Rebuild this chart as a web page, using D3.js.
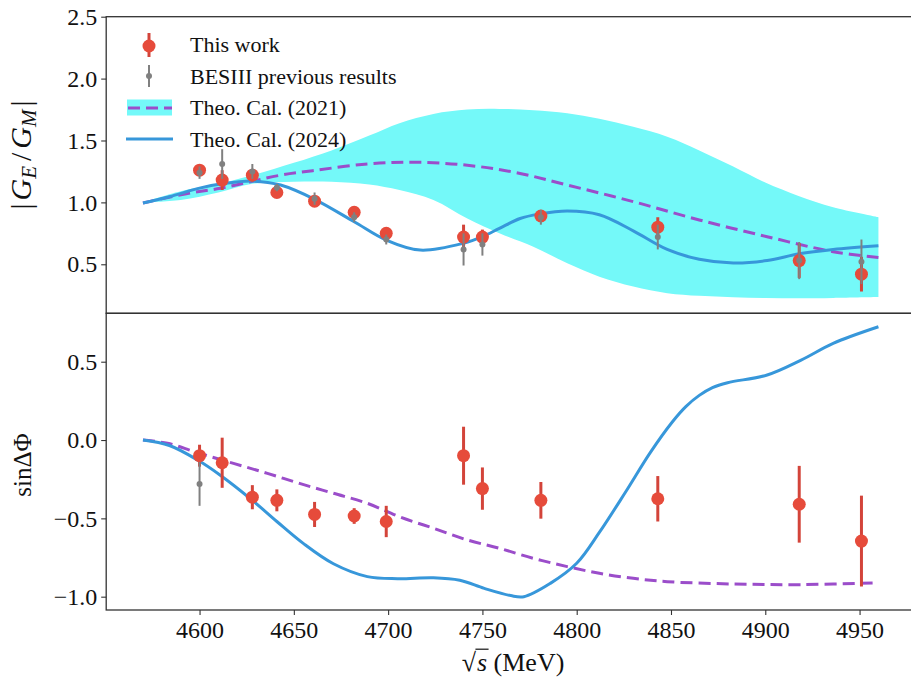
<!DOCTYPE html>
<html>
<head>
<meta charset="utf-8">
<script src="https://cdn.jsdelivr.net/npm/d3@7"></script>
<style>
  body { margin: 0; background: #fff; }
  svg { display: block; }
  text { font-family: "Liberation Serif", "Times New Roman", serif; fill: #111; }
</style>
</head>
<body>
<svg id="chart" width="911" height="680"></svg>
<script>
// Measured centre-of-mass energies (MeV)
const energies = [4600, 4612, 4628, 4641, 4661, 4682, 4699, 4740, 4750, 4781, 4843, 4918, 4951];

// |G_E/G_M| : this work and earlier BESIII results
const ratioThis     = [1.26, 1.18, 1.22, 1.08, 1.01, 0.92, 0.75, 0.72, 0.72, 0.89, 0.80, 0.53, 0.42];
const ratioThisErr  = [0.04, 0.08, 0.05, 0.03, 0.03, 0.03, 0.04, 0.10, 0.06, 0.03, 0.08, 0.14, 0.14];
const ratioPrev     = [1.24, 1.31, 1.25, 1.12, 1.03, 0.88, 0.70, 0.62, 0.66, 0.88, 0.72, 0.53, 0.52];
const ratioPrevErr  = [0.05, 0.12, 0.06, 0.03, 0.05, 0.04, 0.04, 0.13, 0.09, 0.06, 0.10, 0.15, 0.18];

// sin(ΔΦ) : this work, plus a single earlier result at 4600 MeV
const sinThis    = [-0.10, -0.145, -0.365, -0.385, -0.475, -0.485, -0.52, -0.10, -0.31, -0.385, -0.375, -0.41, -0.645];
const sinThisErr = [0.07, 0.16, 0.077, 0.07, 0.08, 0.05, 0.10, 0.185, 0.135, 0.117, 0.145, 0.245, 0.29];
const sinPrevE   = [4600];
const sinPrev    = [-0.28];
const sinPrevErr = [0.14];

// Theory 2024 curve, ratio panel
const t24RatioE = [4570, 4584, 4600, 4612, 4628, 4643, 4661, 4682, 4699, 4717, 4740, 4750, 4759, 4770, 4780, 4795, 4812, 4830, 4848, 4865, 4883, 4901, 4918, 4936, 4960];
const t24Ratio  = [0.995, 1.046, 1.115, 1.15, 1.172, 1.14, 1.025, 0.844, 0.696, 0.615, 0.67, 0.723, 0.79, 0.87, 0.905, 0.93, 0.90, 0.77, 0.62, 0.54, 0.51, 0.53, 0.585, 0.62, 0.65];

// Theory 2021 curve, ratio panel
const t21RatioE = [4570, 4593, 4611, 4627, 4643, 4660, 4689, 4715, 4742, 4768, 4795, 4830, 4865, 4901, 4936, 4960];
const t21Ratio  = [0.995, 1.07, 1.114, 1.167, 1.22, 1.256, 1.31, 1.324, 1.30, 1.24, 1.14, 1.006, 0.858, 0.723, 0.602, 0.555];

// Theory 2021 uncertainty band
const bandE     = [4570, 4590, 4610, 4628, 4650, 4670, 4690, 4706, 4724, 4742, 4759, 4777, 4795, 4812, 4830, 4848, 4865, 4883, 4900, 4918, 4936, 4960];
const bandUpper = [1.0, 1.09, 1.15, 1.22, 1.32, 1.42, 1.54, 1.64, 1.715, 1.75, 1.755, 1.745, 1.72, 1.675, 1.61, 1.53, 1.42, 1.29, 1.16, 1.05, 0.96, 0.88];
const bandLower = [1.0, 1.02, 1.08, 1.15, 1.167, 1.167, 1.145, 1.10, 1.02, 0.87, 0.75, 0.642, 0.508, 0.40, 0.32, 0.266, 0.245, 0.234, 0.228, 0.225, 0.228, 0.235];

// Theory curves, sin(ΔΦ) panel
const t24SinE = [4570, 4584, 4599, 4611, 4628, 4641, 4655, 4671, 4689, 4705, 4724, 4738, 4751, 4765, 4772, 4786, 4800, 4812, 4826, 4839, 4851, 4858, 4865, 4872, 4880, 4901, 4919, 4936, 4960];
const t24Sin  = [0.0, -0.035, -0.128, -0.225, -0.385, -0.52, -0.66, -0.79, -0.872, -0.885, -0.879, -0.895, -0.947, -0.993, -1.0, -0.915, -0.787, -0.59, -0.33, -0.08, 0.12, 0.215, 0.285, 0.335, 0.366, 0.415, 0.51, 0.617, 0.723];
const t21SinE = [4570, 4583, 4600, 4618, 4636, 4653, 4671, 4689, 4706, 4724, 4742, 4759, 4777, 4795, 4812, 4830, 4848, 4883, 4919, 4960];
const t21Sin  = [0.0, -0.021, -0.085, -0.149, -0.213, -0.277, -0.34, -0.404, -0.49, -0.563, -0.638, -0.691, -0.755, -0.808, -0.851, -0.883, -0.904, -0.919, -0.923, -0.911];

// Tick values
const xTicks     = [4600, 4650, 4700, 4750, 4800, 4850, 4900, 4950];
const ratioTicks = [0.5, 1.0, 1.5, 2.0, 2.5];
const sinTicks   = [-1.0, -0.5, 0.0, 0.5];

const legendLabels = ["This work", "BESIII previous results", "Theo. Cal. (2021)", "Theo. Cal. (2024)"];

// ---- styling ----
const SERIF = "Liberation Serif";
const RED = "#E64B3B", RED_BAR = "#D3443A", GREY = "#808080";
const PURPLE = "#9B4DCA", BLUE = "#3797DA", CYAN = "#74F9F9", FRAME = "#333";

const svg = d3.select("#chart");
const left = 106.2, right = 915.2;
const topPanel = { top: 16.7, bottom: 313.3 };
const botPanel = { top: 313.3, bottom: 610 };

const x = d3.scaleLinear().domain([4550.5, 4979.5]).range([left, right]);
const yR = d3.scaleLinear().domain([0.104, 2.5]).range([topPanel.bottom, topPanel.top]);
const yS = d3.scaleLinear().domain([-1.085, 0.809]).range([botPanel.bottom, botPanel.top]);

const smooth = d3.curveCatmullRom.alpha(0.5);
const lineOf = (xs, ys, ysc) => d3.line().curve(smooth).x((d, i) => x(xs[i])).y((d, i) => ysc(ys[i]))(ys);

// ---- ratio panel ----
const gTop = svg.append("g");
gTop.append("path")
  .attr("d", d3.area().curve(smooth)
    .x((d, i) => x(bandE[i])).y0((d, i) => yR(bandLower[i])).y1((d, i) => yR(bandUpper[i]))(bandE))
  .attr("fill", CYAN);
gTop.append("path").attr("d", lineOf(t21RatioE, t21Ratio, yR))
  .attr("fill", "none").attr("stroke", PURPLE).attr("stroke-width", 3).attr("stroke-dasharray", "12,6");
gTop.append("path").attr("d", lineOf(t24RatioE, t24Ratio, yR))
  .attr("fill", "none").attr("stroke", BLUE).attr("stroke-width", 3);

function errorPoints(g, xs, vs, es, ysc, color, barColor, r, w) {
  const pts = g.append("g");
  xs.forEach((e, i) => {
    pts.append("line").attr("x1", x(e)).attr("x2", x(e))
      .attr("y1", ysc(vs[i] - es[i])).attr("y2", ysc(vs[i] + es[i]))
      .attr("stroke", barColor).attr("stroke-width", w);
    pts.append("circle").attr("cx", x(e)).attr("cy", ysc(vs[i])).attr("r", r).attr("fill", color);
  });
}
errorPoints(gTop, energies, ratioThis, ratioThisErr, yR, RED, RED_BAR, 6.5, 3);
errorPoints(gTop, energies, ratioPrev, ratioPrevErr, yR, GREY, GREY, 3, 2);

// ---- sin(ΔΦ) panel ----
const gBot = svg.append("g");
gBot.append("path").attr("d", lineOf(t21SinE, t21Sin, yS))
  .attr("fill", "none").attr("stroke", PURPLE).attr("stroke-width", 3).attr("stroke-dasharray", "12,6");
gBot.append("path").attr("d", lineOf(t24SinE, t24Sin, yS))
  .attr("fill", "none").attr("stroke", BLUE).attr("stroke-width", 3);
errorPoints(gBot, energies, sinThis, sinThisErr, yS, RED, RED_BAR, 6.5, 3);
errorPoints(gBot, sinPrevE, sinPrev, sinPrevErr, yS, GREY, GREY, 3, 2);

// ---- frames ----
[topPanel, botPanel].forEach(p => {
  svg.append("rect").attr("x", left).attr("y", p.top)
    .attr("width", right - left).attr("height", p.bottom - p.top)
    .attr("fill", "none").attr("stroke", FRAME).attr("stroke-width", 1.3);
});

// ---- axes ----
function styleAxis(g) {
  g.attr("font-family", SERIF).attr("font-size", 24);
  g.select(".domain").remove();
  g.selectAll(".tick line").attr("stroke", FRAME).attr("stroke-width", 1.1);
  g.selectAll(".tick text").attr("fill", "#111").attr("font-size", 24)
    .style("font-family", "'Liberation Serif', serif");
}
svg.append("g").attr("transform", `translate(${left},0)`)
  .call(d3.axisLeft(yR).tickValues(ratioTicks).tickSize(5).tickPadding(4).tickFormat(d3.format(".1f")))
  .call(styleAxis);
svg.append("g").attr("transform", `translate(${left},0)`)
  .call(d3.axisLeft(yS).tickValues(sinTicks).tickSize(5).tickPadding(4).tickFormat(d3.format(".1f")))
  .call(styleAxis);
svg.append("g").attr("transform", `translate(0,${botPanel.bottom})`)
  .call(d3.axisBottom(x).tickValues(xTicks).tickSize(5).tickPadding(6).tickFormat(d3.format("d")))
  .call(styleAxis);

// ---- axis titles ----
const yT = svg.append("text").attr("transform", "translate(31,155) rotate(-90)")
  .attr("text-anchor", "middle").attr("font-size", 30);
yT.append("tspan").text("|");
yT.append("tspan").attr("font-style", "italic").attr("dx", 3).text("G");
yT.append("tspan").attr("font-style", "italic").attr("font-size", 21).attr("dy", 5).text("E");
yT.append("tspan").attr("dy", -5).attr("dx", 5).text("/");
yT.append("tspan").attr("font-style", "italic").attr("dx", 4).text("G");
yT.append("tspan").attr("font-style", "italic").attr("font-size", 21).attr("dy", 5).text("M");
yT.append("tspan").attr("dy", -5).attr("dx", 3).text("|");

svg.append("text").attr("transform", "translate(31,465) rotate(-90)")
  .attr("text-anchor", "middle").attr("font-size", 25).text("sinΔΦ");

const xT = svg.append("text").attr("x", 513).attr("y", 671)
  .attr("text-anchor", "middle").attr("font-size", 26);
xT.append("tspan").text("√");
xT.append("tspan").attr("font-style", "italic").attr("dx", 1).text("s");
xT.append("tspan").text(" (MeV)");
// overbar of the square root, spanning the radicand
{
  const n = xT.node();
  const s0 = n.getStartPositionOfChar(1), s1 = n.getEndPositionOfChar(1);
  const rootTop = n.getExtentOfChar(0);
  svg.append("line").attr("x1", s0.x - 1.5).attr("x2", s1.x + 1.5)
    .attr("y1", rootTop.y + 1.2).attr("y2", rootTop.y + 1.2)
    .attr("stroke", "#111").attr("stroke-width", 1.2);
}

// ---- legend ----
const lg = svg.append("g");
const lx = 149, rowY = [46, 76, 108, 139], textY = [52, 84, 115, 146.5];
// This work
lg.append("line").attr("x1", lx).attr("x2", lx).attr("y1", 33).attr("y2", 57).attr("stroke", RED_BAR).attr("stroke-width", 3);
lg.append("circle").attr("cx", lx).attr("cy", rowY[0]).attr("r", 6.5).attr("fill", RED);
// previous
lg.append("line").attr("x1", lx).attr("x2", lx).attr("y1", 65).attr("y2", 87).attr("stroke", GREY).attr("stroke-width", 2);
lg.append("circle").attr("cx", lx).attr("cy", rowY[1]).attr("r", 3).attr("fill", GREY);
// 2021 theory with band
lg.append("rect").attr("x", 127).attr("y", 99.5).attr("width", 45).attr("height", 16).attr("fill", CYAN);
lg.append("line").attr("x1", 127).attr("x2", 172).attr("y1", rowY[2]).attr("y2", rowY[2])
  .attr("stroke", PURPLE).attr("stroke-width", 3).attr("stroke-dasharray", "12,6").attr("stroke-dashoffset", -1);
// 2024 theory
lg.append("line").attr("x1", 126).attr("x2", 173).attr("y1", rowY[3]).attr("y2", rowY[3])
  .attr("stroke", BLUE).attr("stroke-width", 3);
legendLabels.forEach((t, i) => {
  lg.append("text").attr("x", 190).attr("y", textY[i]).attr("font-size", 22).text(t);
});
</script>
</body>
</html>
